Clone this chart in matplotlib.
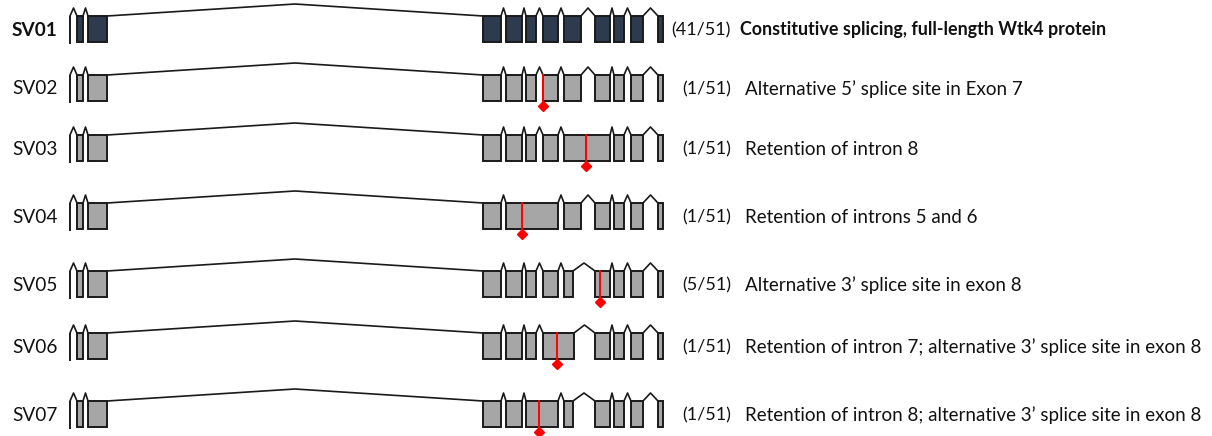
"""
Splice variants of Wtk4 - exon/intron structure per transcript variant.
"""

import matplotlib
matplotlib.use("Agg")
import matplotlib.pyplot as plt
from matplotlib.patches import Rectangle

plt.rcParams["font.family"] = ["Lato", "DejaVu Sans"]

# --- data -----------------------------------------------------------------
variants = ["SV01", "SV02", "SV03", "SV04", "SV05", "SV06", "SV07"]
counts = ["(41/51)", "(1/51)", "(1/51)", "(1/51)", "(5/51)", "(1/51)", "(1/51)"]
descriptions = [
    "Constitutive splicing, full-length Wtk4 protein",
    "Alternative 5\u2019 splice site in Exon 7",
    "Retention of intron 8",
    "Retention of introns 5 and 6",
    "Alternative 3\u2019 splice site in exon 8",
    "Retention of intron 7; alternative 3\u2019 splice site in exon 8",
    "Retention of intron 8; alternative 3\u2019 splice site in exon 8",
]

# exon coordinates (start, end) on the drawn gene axis
first_exon = 70  # very short first exon, drawn as a line
common_exons = [(77, 83), (88, 107), (483, 501), (506, 522), (526, 536),
                (543, 558), (564, 581), (595, 610), (614, 624), (631, 643),
                (658, 663)]
exons = [
    common_exons,
    common_exons,
    common_exons[:6] + [(564, 610)] + common_exons[8:],
    common_exons[:3] + [(506, 558)] + common_exons[6:],
    common_exons[:6] + [(564, 573)] + common_exons[7:],
    common_exons[:5] + [(543, 574)] + common_exons[7:],
    common_exons[:4] + [(526, 558), (564, 573)] + common_exons[7:],
]
# position of the splicing event (red marker), None for the reference
events = [None, 543, 586, 522, 600, 557, 539]

# --- layout -----------------------------------------------------------------
row_top = [16, 75, 135, 203, 271, 333, 401]
exon_h = 26

fig = plt.figure(figsize=(12.12, 4.36), dpi=100)
ax = fig.add_axes([0, 0, 1, 1])
ax.set_xlim(0, 1212)
ax.set_ylim(436, 0)
ax.axis("off")

edge = "#1a1a1a"
for i, name in enumerate(variants):
    top = row_top[i]
    bottom = top + exon_h
    mid = top + exon_h / 2 + 1
    face = "#2e3b4e" if i == 0 else "#a6a6a6"

    # first exon line
    ax.plot([first_exon, first_exon], [top, bottom + 2], color=edge, lw=1.4,
            solid_capstyle="butt", zorder=3)

    # introns as peaks between exons
    prev_end = first_exon
    for s, e in exons[i]:
        gap = s - prev_end
        h = 12 if gap > 100 else 8
        ax.plot([prev_end, (prev_end + s) / 2, s], [top, top - h, top],
                color=edge, lw=1.2, zorder=2)
        prev_end = e

    for s, e in exons[i]:
        ax.add_patch(Rectangle((s, top), e - s, exon_h, facecolor=face,
                               edgecolor=edge, lw=1.4, zorder=3))

    if events[i] is not None:
        x = events[i]
        ax.plot([x, x], [top, bottom + 5], color="#ff0000", lw=1.4, zorder=4)
        ax.plot([x], [bottom + 5], marker="D", color="#ff0000", ms=5, zorder=5)

    bold = i == 0
    ax.text(12, mid, name, fontsize=13.7, fontweight="bold" if bold else "normal",
            va="center", ha="left", color="#111111")
    ax.text(731, mid, counts[i], fontsize=13.0, va="center", ha="right",
            color="#111111")
    ax.text(740 if bold else 745, mid, descriptions[i],
            fontsize=12.9 if bold else 13.5,
            fontweight="bold" if bold else "normal",
            va="center", ha="left", color="#111111")

fig.savefig("out.png", dpi=100)
